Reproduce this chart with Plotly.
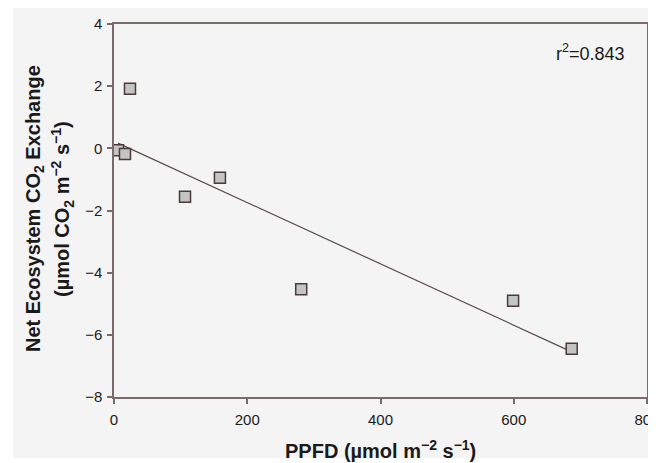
import numpy as np
import plotly.graph_objects as go

ppfd = [6, 16.5, 24, 106.6, 159, 281, 599, 687]
nee = [-0.06, -0.18, 1.92, -1.56, -0.95, -4.53, -4.9, -6.45]
x_ticks = [0, 200, 400, 600, 800]
y_ticks = [-8, -6, -4, -2, 0, 2, 4]
r2_label = "r<sup>2</sup>=0.843"

slope, intercept = np.polyfit(ppfd, nee, 1)
fit_x = [min(ppfd), max(ppfd)]
fit_y = [intercept + slope * v for v in fit_x]

axis_col = "#7a6a6a"
txt_col = "#1a1a1a"
font_fam = "Liberation Sans, Arial, sans-serif"

# page body has an 8px margin; figure coordinates are screen coordinates minus 8
OFF = 8
FW, FH = 656 - OFF, 463 - OFF
L, R, T, B = 114 - OFF, 647 - OFF, 24 - OFF, 397 - OFF
W, H = R - L, B - T


def px(x):
    return (x - OFF - L) / W


def py(y):
    return (B - (y - OFF)) / H


fig = go.Figure()
fig.add_trace(go.Scatter(x=fit_x, y=fit_y, mode="lines",
                         line=dict(color="#5a4a4a", width=1.2), showlegend=False))
fig.add_trace(go.Scatter(x=ppfd, y=nee, mode="markers",
                         marker=dict(symbol="square", size=11, color="#c4c4c4",
                                     line=dict(color="#4a3a3a", width=1.5)),
                         showlegend=False))

fig.update_layout(
    width=FW, height=FH,
    margin=dict(l=L, r=FW - R, t=T, b=FH - B),
    paper_bgcolor="white", plot_bgcolor="#f4f4f4",
    font=dict(family=font_fam, color=txt_col, size=15),
    xaxis=dict(range=[0, 800], tickvals=x_ticks, showgrid=False, zeroline=False,
               showline=True, linecolor=axis_col, linewidth=1.5, mirror=True,
               ticks="outside", ticklen=5, tickcolor=axis_col, tickwidth=1.5,
               tickfont=dict(size=15, color=txt_col), automargin=False,
               ticklabeloverflow="allow", ticklabelstandoff=3),
    yaxis=dict(range=[-8, 4], tickvals=y_ticks, showgrid=False, zeroline=False,
               showline=True, linecolor=axis_col, linewidth=1.5, mirror=True,
               ticks="outside", ticklen=5, tickcolor=axis_col, tickwidth=1.5,
               tickfont=dict(size=15, color=txt_col), automargin=False,
               ticklabeloverflow="allow", ticklabelstandoff=2),
    shapes=[dict(type="rect", xref="paper", yref="paper",
                 x0=px(13), x1=px(670), y0=py(458), y1=py(8),
                 fillcolor="#f4f4f4", line=dict(width=0), layer="below")],
)

fig.add_annotation(xref="paper", yref="paper", x=px(380), y=py(449),
                   text="<b>PPFD (µmol m<sup>−2</sup> s<sup>−1</sup>)</b>", showarrow=False,
                   font=dict(size=20, color=txt_col), xanchor="center", yanchor="middle")
fig.add_annotation(xref="paper", yref="paper", x=px(34), y=py(208),
                   text="<b>Net Ecosystem CO<sub>2</sub> Exchange</b>", showarrow=False,
                   textangle=-90, font=dict(size=20, color=txt_col),
                   xanchor="center", yanchor="middle")
fig.add_annotation(xref="paper", yref="paper", x=px(62), y=py(209),
                   text="<b>(µmol CO<sub>2</sub> m<sup>−2</sup> s<sup>−1</sup>)</b>", showarrow=False,
                   textangle=-90, font=dict(size=20, color=txt_col),
                   xanchor="center", yanchor="middle")
fig.add_annotation(xref="paper", yref="paper", x=px(590), y=py(52),
                   text=r2_label, showarrow=False,
                   font=dict(size=18, color=txt_col), xanchor="center", yanchor="middle")

fig.write_html("out.html")
